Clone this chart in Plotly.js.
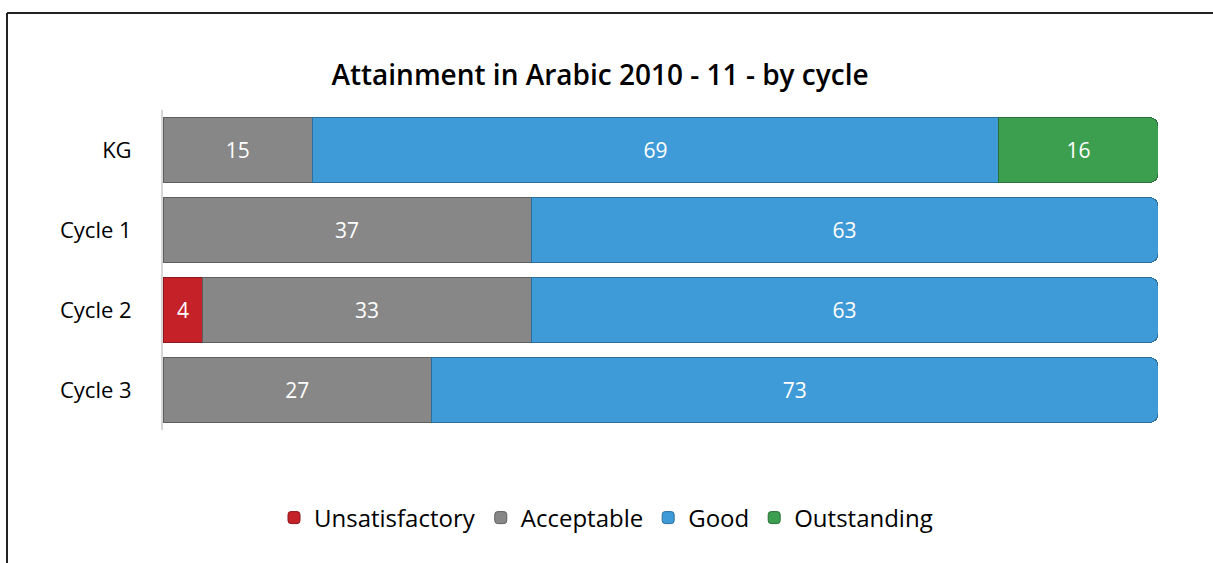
<!DOCTYPE html>
<html>
<head>
<meta charset="utf-8">
<script src="https://cdn.plot.ly/plotly-3.0.1.min.js"></script>
<style>
  html, body { margin: 0; padding: 0; background: #ffffff; }
  #chart { width: 1213px; height: 563px; }
</style>
</head>
<body>
<div id="chart"></div>
<script>
const categories = ['KG', 'Cycle 1', 'Cycle 2', 'Cycle 3'];
const seriesNames = ['Unsatisfactory', 'Acceptable', 'Good', 'Outstanding'];
const unsatisfactory = [0, 0, 4, 0];
const acceptable = [15, 37, 33, 27];
const good = [69, 63, 63, 73];
const outstanding = [16, 0, 0, 0];
const seriesColors = ['#c42128', '#878787', '#3f9bd7', '#3c9e4f'];
const seriesLines = ['#8e161c', '#5e5e5e', '#2a6f9e', '#2a7038'];

const seriesValues = [unsatisfactory, acceptable, good, outstanding];
const FONT = '"Open Sans", "DejaVu Sans Condensed", sans-serif';

const traces = seriesValues.map((vals, i) => ({
  type: 'bar',
  orientation: 'h',
  name: seriesNames[i],
  y: categories,
  x: vals,
  text: vals.map(v => v > 0 ? String(v) : ''),
  textposition: 'inside',
  insidetextanchor: 'middle',
  textfont: { color: '#ffffff', size: 21, family: FONT },
  constraintext: 'none',
  hoverinfo: 'skip',
  marker: { color: seriesColors[i], line: { color: seriesLines[i], width: 1 } }
}));

const L = 163, R = 1158, T = 110, B = 430;
const W = 1213, H = 563;
const px = x => (x - L) / (R - L);
const py = y => (B - y) / (B - T);

const layout = {
  width: W, height: H,
  margin: { l: L, r: W - R, t: T, b: H - B, pad: 0 },
  paper_bgcolor: '#ffffff',
  plot_bgcolor: '#ffffff',
  barmode: 'stack',
  bargap: 0.19,
  barcornerradius: 8,
  font: { family: FONT, color: '#000000', size: 20 },
  title: {
    text: 'Attainment in Arabic 2010 - 11 - by cycle',
    font: { family: FONT, size: 28, color: '#000000', weight: 600 },
    x: 600 / W, xanchor: 'center',
    y: 1 - 75 / H, yanchor: 'middle', yref: 'container'
  },
  xaxis: {
    range: [0, 100], visible: false, fixedrange: true
  },
  yaxis: {
    type: 'category',
    categoryorder: 'array',
    categoryarray: categories,
    autorange: 'reversed',
    showline: true, linecolor: '#d6d6d6', linewidth: 2,
    ticks: 'outside', ticklen: 25, tickcolor: 'rgba(0,0,0,0)',
    tickfont: { family: FONT, size: 22, color: '#000000' },
    showgrid: false, zeroline: false, fixedrange: true
  },
  showlegend: true,
  legend: {
    orientation: 'h',
    x: px(606), xanchor: 'center',
    y: py(518), yanchor: 'middle',
    traceorder: 'normal',
    font: { family: FONT, size: 24, color: '#000000' },
    itemwidth: 30
  },
  shapes: [
    { type: 'line', xref: 'paper', yref: 'paper',
      x0: px(7), x1: px(7), y0: py(H + 5), y1: py(13),
      line: { color: '#222222', width: 2 } },
    { type: 'line', xref: 'paper', yref: 'paper',
      x0: px(7), x1: px(W + 5), y0: py(13), y1: py(13),
      line: { color: '#222222', width: 2 } }
  ]
};

Plotly.newPlot('chart', traces, layout, { displayModeBar: false, staticPlot: true });
</script>
</body>
</html>
